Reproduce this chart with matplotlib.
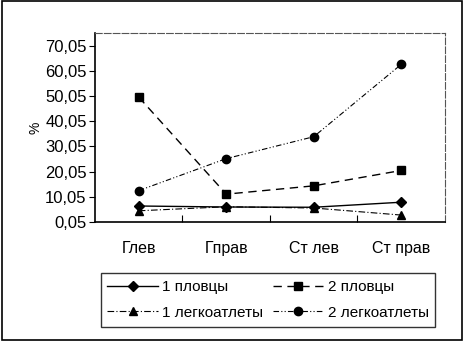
import matplotlib
matplotlib.use("Agg")
import matplotlib.pyplot as plt
from matplotlib.patches import Rectangle

plt.rcParams['font.family'] = ['Liberation Sans', 'DejaVu Sans']

categories = ['Глев', 'Гправ', 'Ст лев', 'Ст прав']
swim1 = [6.4, 6.0, 5.9, 7.9]
swim2 = [49.6, 11.1, 14.4, 20.5]
track1 = [4.5, 6.1, 5.6, 2.8]
track2 = [12.5, 25.2, 33.9, 62.6]
yticks = [0.05, 10.05, 20.05, 30.05, 40.05, 50.05, 60.05, 70.05]

fig = plt.figure(figsize=(4.64, 3.41), dpi=100)
ax = fig.add_axes([95 / 464, 1 - 222 / 341, 350 / 464, 189 / 341])

x = range(len(categories))
ms = 6
h1, = ax.plot(x, swim1, '-', color='black', lw=1.0, marker='D', ms=ms - 1)
h2, = ax.plot(x, swim2, color='black', lw=1.0, marker='s', ms=ms, dashes=(6, 4))
h3, = ax.plot(x, track1, color='black', lw=0.8, marker='^', ms=ms, dashes=(6, 2, 1, 2))
h4, = ax.plot(x, track2, color='black', lw=0.8, marker='o', ms=ms, dashes=(5, 2, 1, 2, 1, 2))

ax.set_xlim(-0.5, 3.5)
ax.set_ylim(0.05, 75.05)
ax.set_yticks(yticks)
ax.set_yticklabels([f'{v:.2f}'.replace('.', ',') for v in yticks], fontsize=12)
ax.set_xticks([0.5, 1.5, 2.5])
ax.set_xticklabels([])
ax.set_xticks(list(x), categories, minor=True)
ax.tick_params(axis='x', which='minor', length=0, pad=14, labelsize=11.5)
ax.tick_params(axis='x', which='major', length=5, direction='in')
ax.tick_params(axis='y', length=4, direction='out', pad=2)
ax.set_ylabel('%', fontsize=10, labelpad=2)

for side in ['top', 'right']:
    ax.spines[side].set_color('#555555')
    ax.spines[side].set_linestyle((0, (6, 2)))
    ax.spines[side].set_linewidth(0.8)
ax.spines['left'].set_linewidth(1.2)
ax.spines['bottom'].set_linewidth(1.2)

leg = fig.legend([h1, h3, h2, h4],
                 ['1 пловцы', '1 легкоатлеты', '2 пловцы', '2 легкоатлеты'],
                 ncol=2, loc='center', bbox_to_anchor=(268 / 464, 1 - 300 / 341),
                 frameon=True, fancybox=False, edgecolor='black', fontsize=11,
                 handlelength=3.3, columnspacing=0.6, handletextpad=0.3,
                 borderpad=0.45, labelspacing=0.75)
leg.get_frame().set_linewidth(1.0)

fig.patches.append(Rectangle((0.004, 0.004), 0.992, 0.992, transform=fig.transFigure,
                             fill=False, edgecolor='black', lw=1.2))

fig.savefig('out.png', dpi=100)
